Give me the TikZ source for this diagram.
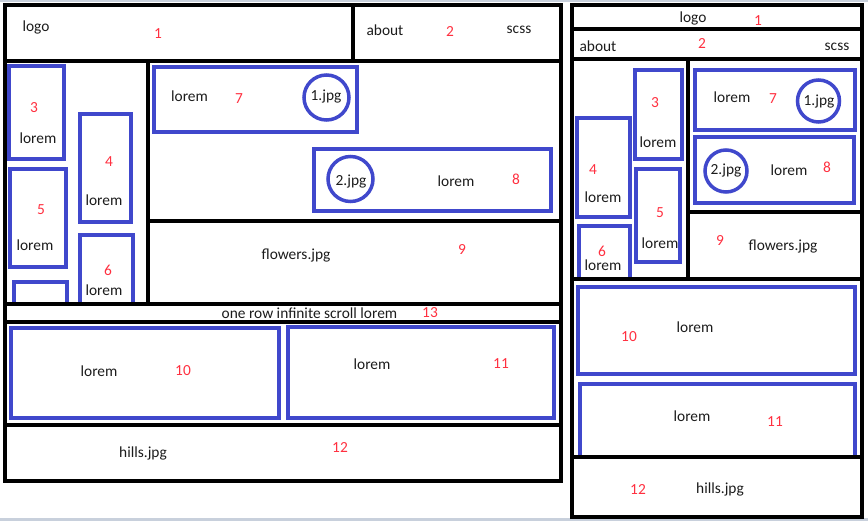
\documentclass[tikz,border=0pt]{standalone}
\usepackage{fontspec}
\setmainfont{Carlito}
\definecolor{blockblue}{RGB}{64,72,204}
\definecolor{tagred}{RGB}{255,48,64}
\definecolor{inkgray}{RGB}{28,28,28}
\definecolor{edgegray}{RGB}{200,208,220}
\begin{document}
\begin{tikzpicture}[x=1pt,y=-1pt,
  frame/.style={draw=black,line width=4pt},
  cell/.style={draw=blockblue,line width=4pt},
  pic/.style={draw=blockblue,line width=3.5pt,circle,inner sep=0pt},
  txt/.style={font=\fontsize{15.4}{18}\selectfont,text=inkgray,inner sep=0pt},
  num/.style={font=\fontsize{15.4}{18}\selectfont,text=tagred,inner sep=0pt}]
\useasboundingbox (0,0) rectangle (868,521);
\fill[white] (0,0) rectangle (868,521);
\fill[edgegray] (0,0) rectangle (868,2);
\fill[edgegray] (0,518) rectangle (868,521);

% ---------- wide layout: blue blocks ----------
\draw[cell] (9,66) rectangle (64,159);
\draw[cell] (80,114) rectangle (131,222);
\draw[cell] (10,169) rectangle (66,267);
\draw[cell] (80,304) |- (133,235) -- (133,304);
\draw[cell] (14,304) |- (67,282) -- (67,304);
\draw[cell] (154,67) rectangle (357,132);
\draw[cell] (314,149) rectangle (551,211);
\draw[cell] (10.5,328) rectangle (279,418);
\draw[cell] (287.5,327) rectangle (554,418);
\draw[pic] (326.5,97.5) circle (22.5);
\draw[pic] (350.5,179) circle (22.5);

% ---------- wide layout: frame ----------
\draw[frame] (4.5,5.5) rectangle (561,481);
\draw[frame] (353,5.5) -- (353,61);
\draw[frame] (4.5,61) -- (561,61);
\draw[frame] (147.5,61) -- (147.5,304);
\draw[frame] (147.5,221) -- (561,221);
\draw[frame] (4.5,304) -- (561,304);
\draw[frame] (4.5,322) -- (561,322);
\draw[frame] (4.5,424.5) -- (561,424.5);

% ---------- wide layout: texts ----------
\node[txt] (wlogo) at (36,27) {logo};
\node[num] (wn1) at (158,34) {1};
\node[txt] (wabout) at (385,30) {about};
\node[num] (wn2) at (450,32) {2};
\node[txt] (wscss) at (519,30) {scss};
\node[num] (wn3) at (34,108) {3};
\node[txt] (wl3) at (38,138) {lorem};
\node[num] (wn4) at (109,162) {4};
\node[txt] (wl4) at (104,200) {lorem};
\node[num] (wn5) at (41,210) {5};
\node[txt] (wl5) at (35,245) {lorem};
\node[num] (wn6) at (108,270) {6};
\node[txt] (wl6) at (104,290) {lorem};
\node[txt] (wl7) at (189.5,96) {lorem};
\node[num] (wn7) at (239,99) {7};
\node[txt] (wj1) at (326,97) {1.jpg};
\node[txt] (wj2) at (351,182) {2.jpg};
\node[txt] (wl8) at (456,181) {lorem};
\node[num] (wn8) at (516,179) {8};
\node[txt] (wflw) at (296,256) {flowers.jpg};
\node[num] (wn9) at (462,250) {9};
\node[txt] (wrow) at (309.5,313) {one row infinite scroll lorem};
\node[num] (wn13) at (430,313) {13};
\node[txt] (wl10) at (99,371) {lorem};
\node[num] (wn10) at (183,371) {10};
\node[txt] (wl11) at (372,364) {lorem};
\node[num] (wn11) at (501,364) {11};
\node[txt] (whill) at (143,453) {hills.jpg};
\node[num] (wn12) at (340,448) {12};

% ---------- narrow layout: blue blocks ----------
\draw[cell] (635,70) rectangle (682,159);
\draw[cell] (577,118) rectangle (630,217);
\draw[cell] (636,169) rectangle (680,262);
\draw[cell] (579,279) |- (630,226) -- (630,279);
\draw[cell] (695,70) rectangle (855,130);
\draw[cell] (695,137) rectangle (854,203);
\draw[cell] (578,287) rectangle (855,374);
\draw[cell] (580,457) |- (855,384) -- (855,457);
\draw[pic] (818.5,101) circle (21);
\draw[pic] (726,171) circle (21);

% ---------- narrow layout: frame ----------
\draw[frame] (572,5.5) rectangle (862,517);
\draw[frame] (572,29) -- (862,29);
\draw[frame] (572,59) -- (862,59);
\draw[frame] (688,59) -- (688,279);
\draw[frame] (688,212) -- (862,212);
\draw[frame] (572,279) -- (862,279);
\draw[frame] (572,457) -- (862,457);

% ---------- narrow layout: texts ----------
\node[txt] (nlogo) at (693,18) {logo};
\node[num] (nn1) at (758,21) {1};
\node[txt] (nabout) at (598,46) {about};
\node[num] (nn2) at (702,44) {2};
\node[txt] (nscss) at (837,47) {scss};
\node[num] (nn3) at (655,103) {3};
\node[txt] (nl3) at (658,142) {lorem};
\node[txt] (nl7) at (732,97) {lorem};
\node[num] (nn7) at (773,99) {7};
\node[txt] (nj1) at (819,102) {1.jpg};
\node[num] (nn4) at (593,170) {4};
\node[txt] (nl4) at (603,197) {lorem};
\node[txt] (nj2) at (726,171) {2.jpg};
\node[txt] (nl8) at (789,170) {lorem};
\node[num] (nn8) at (827,167) {8};
\node[num] (nn5) at (660,213) {5};
\node[txt] (nl5) at (660,243) {lorem};
\node[num] (nn6) at (602,251) {6};
\node[txt] (nl6) at (603,265) {lorem};
\node[num] (nn9) at (720,241) {9};
\node[txt] (nflw) at (783,247) {flowers.jpg};
\node[txt] (nl10) at (695,327) {lorem};
\node[num] (nn10) at (629,337) {10};
\node[txt] (nl11) at (692,416) {lorem};
\node[num] (nn11) at (775,422) {11};
\node[num] (nn12) at (638,490) {12};
\node[txt] (nhill) at (720,489) {hills.jpg};
\end{tikzpicture}
\end{document}
